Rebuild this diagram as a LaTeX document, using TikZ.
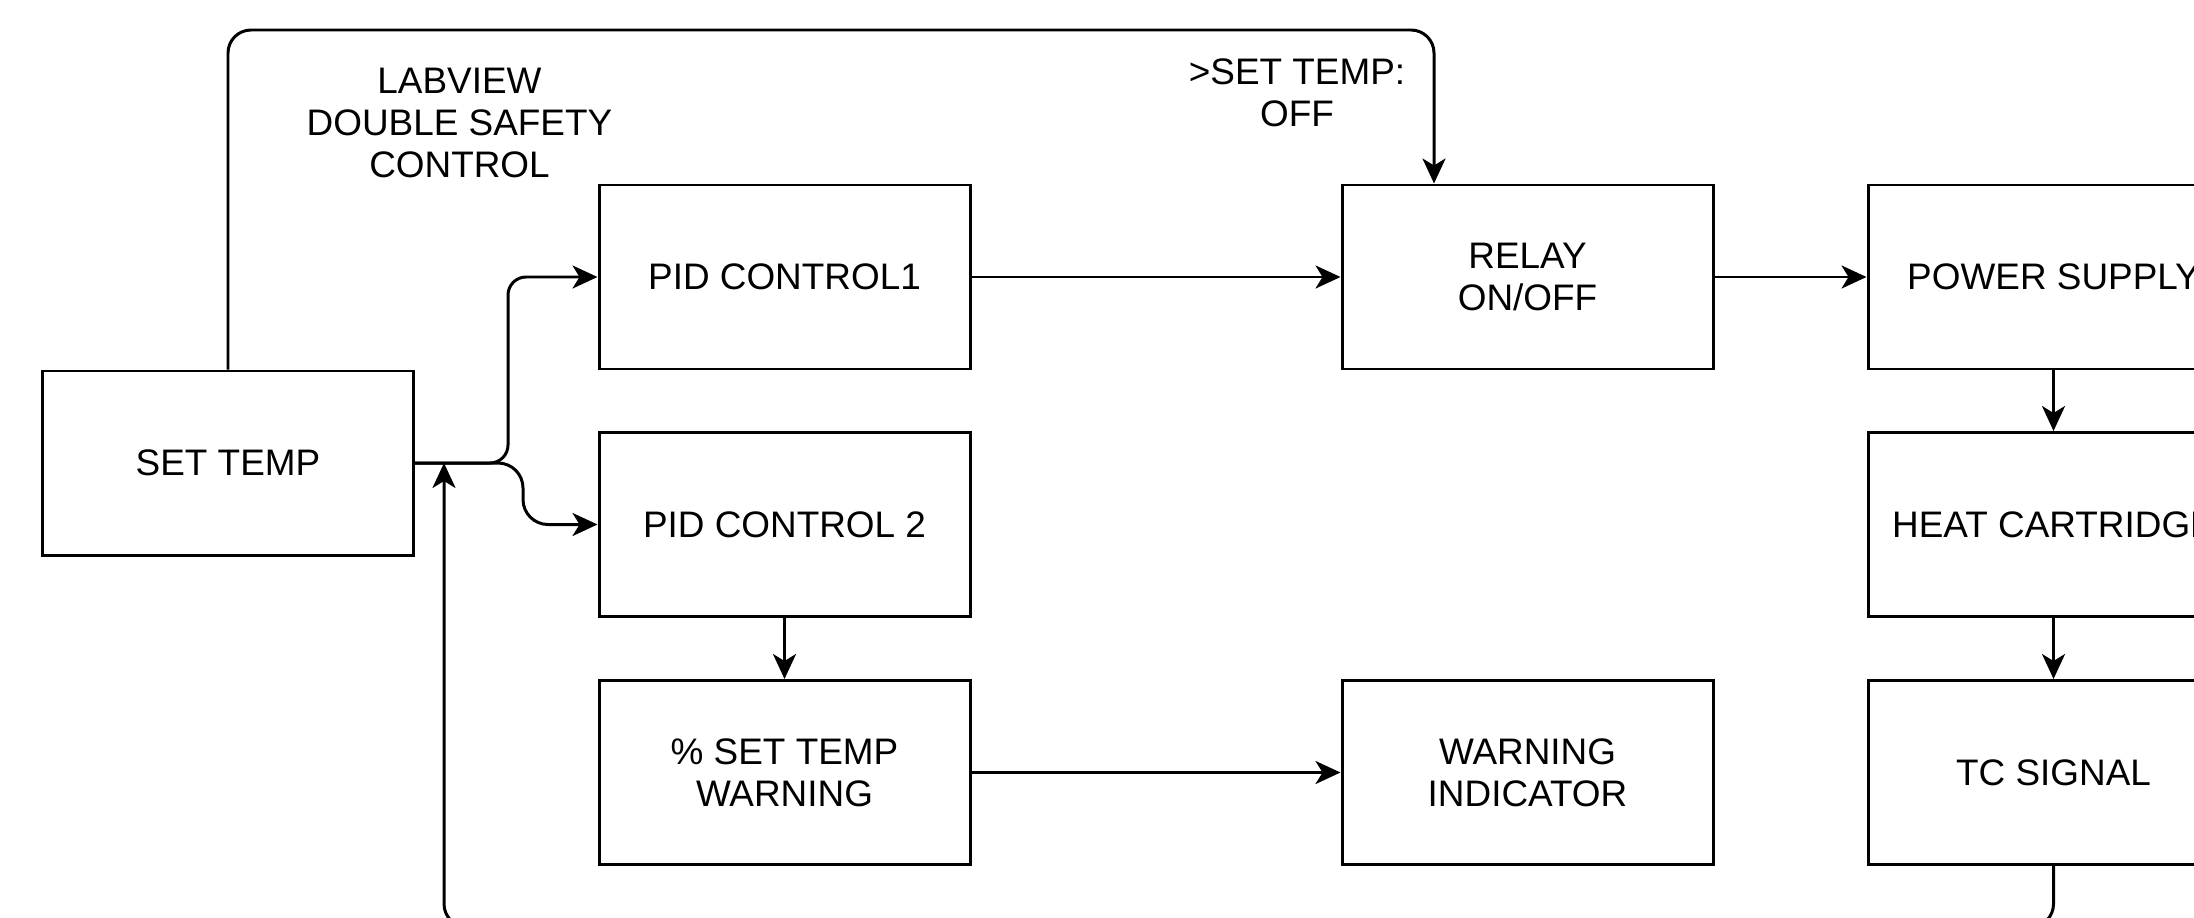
\documentclass[tikz,border=0pt]{standalone}
\usepackage{fontspec}
\setmainfont{Liberation Sans}
\usetikzlibrary{arrows.meta,calc}
\tikzset{
  block/.style={draw, line width=0.85pt, minimum width=3.71cm, minimum height=1.84cm,
    inner sep=0pt, align=center, font=\fontsize{10.5pt}{12pt}\selectfont},
  arr/.style={-{Stealth[length=0.25cm,width=0.23cm,inset=0.07cm]}, line width=0.85pt},
  lbl/.style={align=center, font=\fontsize{10.5pt}{12pt}\selectfont}
}
\begin{document}
\begin{tikzpicture}
\useasboundingbox (0,0) rectangle (21.94,9.17);
\clip (0,0) rectangle (21.94,9.17);
\node[block] (settemp) at (2.28,4.54) {SET TEMP};
\node[block] (pid1) at (7.845,6.40) {PID CONTROL1};
\node[block] (pid2) at (7.845,3.925) {PID CONTROL 2};
\node[block] (warn) at (7.845,1.445) {\% SET TEMP\\WARNING};
\node[block] (relay) at (15.275,6.40) {RELAY\\ON/OFF};
\node[block] (ind) at (15.275,1.445) {WARNING\\INDICATOR};
\node[block] (power) at (20.535,6.40) {POWER SUPPLY};
\node[block] (heat) at (20.535,3.925) {HEAT CARTRIDGE};
\node[block] (tc) at (20.535,1.445) {TC SIGNAL};
\node[lbl] (labview) at (4.595,7.94) {LABVIEW\\DOUBLE SAFETY\\CONTROL};
\node[lbl] (offlbl) at (12.97,8.245) {>SET TEMP:\\OFF};
\coordinate (toprail) at (0,8.87);
\coordinate (relayin) at ($(relay.north west)!0.25!(relay.north east)$);
\coordinate (forkup) at (5.08,4.54);
\coordinate (forkdown) at (5.23,4.54);
\coordinate (join) at (4.44,4.54);
\coordinate (loop) at (4.44,-0.1);
\draw[arr, rounded corners=0.23cm] (settemp.north) |- (toprail -| relayin) -- (relayin);
\draw[arr, rounded corners=0.18cm] (settemp.east) -- (forkup) |- (pid1.west);
\draw[arr, rounded corners=0.25cm] (settemp.east) -- (forkdown) |- (pid2.west);
\draw[arr] (pid1) -- (relay);
\draw[arr] (relay) -- (power);
\draw[arr] (pid2) -- (warn);
\draw[arr] (warn) -- (ind);
\draw[arr] (power) -- (heat);
\draw[arr] (heat) -- (tc);
\draw[arr, rounded corners=0.23cm] (tc.south) |- (loop) -- (join);
\end{tikzpicture}
\end{document}
